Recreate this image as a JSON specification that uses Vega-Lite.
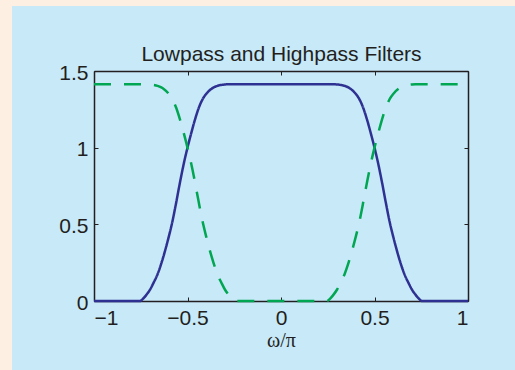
{
  "$schema": "https://vega.github.io/schema/vega-lite/v6.json",
  "width": 374,
  "height": 230,
  "autosize": {"type": "none"},
  "padding": {"left": 94, "top": 71, "right": 47, "bottom": 69},
  "background": "#c7e9f8",
  "config": {
    "view": {"stroke": null},
    "axis": {"domainColor": "#231f20", "domainWidth": 1.5, "tickColor": "#231f20", "tickWidth": 1, "tickSize": -4, "grid": false, "labelColor": "#231f20", "labelFont": "Liberation Sans", "labelFontSize": 21, "titleColor": "#231f20"}
  },
  "datasets": {
    "curves": [
      {"x": -1.0, "y": 0.0, "s": "lowpass"},
      {"x": -0.754, "y": 0.0, "s": "lowpass"},
      {"x": -0.74, "y": 0.012, "s": "lowpass"},
      {"x": -0.73, "y": 0.025, "s": "lowpass"},
      {"x": -0.72, "y": 0.04, "s": "lowpass"},
      {"x": -0.70, "y": 0.075, "s": "lowpass"},
      {"x": -0.683, "y": 0.115, "s": "lowpass"},
      {"x": -0.66, "y": 0.175, "s": "lowpass"},
      {"x": -0.64, "y": 0.245, "s": "lowpass"},
      {"x": -0.629, "y": 0.289, "s": "lowpass"},
      {"x": -0.60, "y": 0.42, "s": "lowpass"},
      {"x": -0.584, "y": 0.5, "s": "lowpass"},
      {"x": -0.56, "y": 0.645, "s": "lowpass"},
      {"x": -0.54, "y": 0.775, "s": "lowpass"},
      {"x": -0.52, "y": 0.895, "s": "lowpass"},
      {"x": -0.50, "y": 1.0, "s": "lowpass"},
      {"x": -0.48, "y": 1.095, "s": "lowpass"},
      {"x": -0.46, "y": 1.183, "s": "lowpass"},
      {"x": -0.44, "y": 1.2586, "s": "lowpass"},
      {"x": -0.416, "y": 1.3229, "s": "lowpass"},
      {"x": -0.40, "y": 1.3505, "s": "lowpass"},
      {"x": -0.371, "y": 1.3844, "s": "lowpass"},
      {"x": -0.36, "y": 1.3928, "s": "lowpass"},
      {"x": -0.34, "y": 1.4034, "s": "lowpass"},
      {"x": -0.317, "y": 1.4095, "s": "lowpass"},
      {"x": -0.30, "y": 1.4122, "s": "lowpass"},
      {"x": -0.28, "y": 1.4137, "s": "lowpass"},
      {"x": -0.27, "y": 1.414, "s": "lowpass"},
      {"x": -0.246, "y": 1.4142, "s": "lowpass"},
      {"x": 0.0, "y": 1.4142, "s": "lowpass"},
      {"x": 0.246, "y": 1.4142, "s": "lowpass"},
      {"x": 0.27, "y": 1.414, "s": "lowpass"},
      {"x": 0.28, "y": 1.4137, "s": "lowpass"},
      {"x": 0.30, "y": 1.4122, "s": "lowpass"},
      {"x": 0.317, "y": 1.4095, "s": "lowpass"},
      {"x": 0.34, "y": 1.4034, "s": "lowpass"},
      {"x": 0.36, "y": 1.3928, "s": "lowpass"},
      {"x": 0.371, "y": 1.3844, "s": "lowpass"},
      {"x": 0.40, "y": 1.3505, "s": "lowpass"},
      {"x": 0.416, "y": 1.3229, "s": "lowpass"},
      {"x": 0.44, "y": 1.2586, "s": "lowpass"},
      {"x": 0.46, "y": 1.183, "s": "lowpass"},
      {"x": 0.48, "y": 1.095, "s": "lowpass"},
      {"x": 0.50, "y": 1.0, "s": "lowpass"},
      {"x": 0.52, "y": 0.895, "s": "lowpass"},
      {"x": 0.54, "y": 0.775, "s": "lowpass"},
      {"x": 0.56, "y": 0.645, "s": "lowpass"},
      {"x": 0.584, "y": 0.5, "s": "lowpass"},
      {"x": 0.60, "y": 0.42, "s": "lowpass"},
      {"x": 0.629, "y": 0.289, "s": "lowpass"},
      {"x": 0.64, "y": 0.245, "s": "lowpass"},
      {"x": 0.66, "y": 0.175, "s": "lowpass"},
      {"x": 0.683, "y": 0.115, "s": "lowpass"},
      {"x": 0.70, "y": 0.075, "s": "lowpass"},
      {"x": 0.72, "y": 0.04, "s": "lowpass"},
      {"x": 0.73, "y": 0.025, "s": "lowpass"},
      {"x": 0.74, "y": 0.012, "s": "lowpass"},
      {"x": 0.754, "y": 0.0, "s": "lowpass"},
      {"x": 1.0, "y": 0.0, "s": "lowpass"},
      {"x": -1.0, "y": 1.4142, "s": "highpass"},
      {"x": -0.754, "y": 1.4142, "s": "highpass"},
      {"x": -0.73, "y": 1.414, "s": "highpass"},
      {"x": -0.72, "y": 1.4137, "s": "highpass"},
      {"x": -0.70, "y": 1.4122, "s": "highpass"},
      {"x": -0.683, "y": 1.4095, "s": "highpass"},
      {"x": -0.66, "y": 1.4034, "s": "highpass"},
      {"x": -0.64, "y": 1.3928, "s": "highpass"},
      {"x": -0.629, "y": 1.3844, "s": "highpass"},
      {"x": -0.60, "y": 1.3505, "s": "highpass"},
      {"x": -0.584, "y": 1.3229, "s": "highpass"},
      {"x": -0.56, "y": 1.2586, "s": "highpass"},
      {"x": -0.54, "y": 1.183, "s": "highpass"},
      {"x": -0.52, "y": 1.095, "s": "highpass"},
      {"x": -0.50, "y": 1.0, "s": "highpass"},
      {"x": -0.48, "y": 0.895, "s": "highpass"},
      {"x": -0.46, "y": 0.775, "s": "highpass"},
      {"x": -0.44, "y": 0.645, "s": "highpass"},
      {"x": -0.416, "y": 0.5, "s": "highpass"},
      {"x": -0.40, "y": 0.42, "s": "highpass"},
      {"x": -0.371, "y": 0.289, "s": "highpass"},
      {"x": -0.36, "y": 0.245, "s": "highpass"},
      {"x": -0.34, "y": 0.175, "s": "highpass"},
      {"x": -0.317, "y": 0.115, "s": "highpass"},
      {"x": -0.30, "y": 0.075, "s": "highpass"},
      {"x": -0.28, "y": 0.04, "s": "highpass"},
      {"x": -0.27, "y": 0.025, "s": "highpass"},
      {"x": -0.26, "y": 0.012, "s": "highpass"},
      {"x": -0.246, "y": 0.0, "s": "highpass"},
      {"x": 0.0, "y": 0.0, "s": "highpass"},
      {"x": 0.246, "y": 0.0, "s": "highpass"},
      {"x": 0.26, "y": 0.012, "s": "highpass"},
      {"x": 0.27, "y": 0.025, "s": "highpass"},
      {"x": 0.28, "y": 0.04, "s": "highpass"},
      {"x": 0.30, "y": 0.075, "s": "highpass"},
      {"x": 0.317, "y": 0.115, "s": "highpass"},
      {"x": 0.34, "y": 0.175, "s": "highpass"},
      {"x": 0.36, "y": 0.245, "s": "highpass"},
      {"x": 0.371, "y": 0.289, "s": "highpass"},
      {"x": 0.40, "y": 0.42, "s": "highpass"},
      {"x": 0.416, "y": 0.5, "s": "highpass"},
      {"x": 0.44, "y": 0.645, "s": "highpass"},
      {"x": 0.46, "y": 0.775, "s": "highpass"},
      {"x": 0.48, "y": 0.895, "s": "highpass"},
      {"x": 0.50, "y": 1.0, "s": "highpass"},
      {"x": 0.52, "y": 1.095, "s": "highpass"},
      {"x": 0.54, "y": 1.183, "s": "highpass"},
      {"x": 0.56, "y": 1.2586, "s": "highpass"},
      {"x": 0.584, "y": 1.3229, "s": "highpass"},
      {"x": 0.60, "y": 1.3505, "s": "highpass"},
      {"x": 0.629, "y": 1.3844, "s": "highpass"},
      {"x": 0.64, "y": 1.3928, "s": "highpass"},
      {"x": 0.66, "y": 1.4034, "s": "highpass"},
      {"x": 0.683, "y": 1.4095, "s": "highpass"},
      {"x": 0.70, "y": 1.4122, "s": "highpass"},
      {"x": 0.72, "y": 1.4137, "s": "highpass"},
      {"x": 0.73, "y": 1.414, "s": "highpass"},
      {"x": 0.754, "y": 1.4142, "s": "highpass"},
      {"x": 1.0, "y": 1.4142, "s": "highpass"}
    ]
  },
  "layer": [
    {
      "data": {"values": [{}]},
      "mark": {"type": "rect", "color": "#fdefe1"},
      "encoding": {
        "x": {"datum": -1.7, "type": "quantitative", "scale": {"domain": [-1, 1], "nice": false, "zero": false}, "axis": null},
        "x2": {"datum": -1.4385},
        "y": {"datum": 2.2, "type": "quantitative", "scale": {"domain": [0, 1.5], "nice": false, "zero": false}, "axis": null},
        "y2": {"datum": -0.7}
      }
    },
    {
      "data": {"values": [{}]},
      "mark": {"type": "rect", "color": "#fdefe1"},
      "encoding": {
        "x": {"datum": -1.7, "type": "quantitative", "scale": {"domain": [-1, 1], "nice": false, "zero": false}, "axis": null},
        "x2": {"datum": 1.5},
        "y": {"datum": 2.2, "type": "quantitative", "scale": {"domain": [0, 1.5], "nice": false, "zero": false}, "axis": null},
        "y2": {"datum": 1.9239}
      }
    },
    {
      "data": {"name": "curves"},
      "mark": {"type": "line", "interpolate": "monotone", "strokeWidth": 2.5},
      "encoding": {
        "x": {"field": "x", "type": "quantitative", "scale": {"domain": [-1, 1], "nice": false, "zero": false},
              "axis": {"orient": "bottom", "values": [-1, -0.5, 0, 0.5, 1], "format": "~g", "labelPadding": 10, "title": "ω/π", "titleFont": "Liberation Serif", "titleFontSize": 20, "titleFontWeight": "normal", "titlePadding": 2}},
        "y": {"field": "y", "type": "quantitative", "scale": {"domain": [0, 1.5], "nice": false, "zero": false},
              "axis": {"orient": "left", "values": [0, 0.5, 1, 1.5], "format": "~g", "labelPadding": 10, "labelOffset": 2, "title": null}},
        "color": {"field": "s", "type": "nominal", "scale": {"domain": ["lowpass", "highpass"], "range": ["#2e3192", "#00a651"]}, "legend": null},
        "strokeDash": {"field": "s", "type": "nominal", "scale": {"domain": ["lowpass", "highpass"], "range": [[1, 0], [17, 13]]}, "legend": null}
      }
    },
    {
      "data": {"name": "curves"},
      "mark": {"type": "line", "opacity": 0},
      "encoding": {
        "x": {"field": "x", "type": "quantitative", "scale": {"domain": [-1, 1], "nice": false, "zero": false},
              "axis": {"orient": "top", "values": [-1, -0.5, 0, 0.5, 1], "labels": false, "title": "Lowpass and Highpass Filters", "titleFont": "Liberation Sans", "titleFontSize": 21, "titleFontWeight": "normal", "titleBaseline": "alphabetic", "titlePadding": 10}},
        "y": {"field": "y", "type": "quantitative", "scale": {"domain": [0, 1.5], "nice": false, "zero": false},
              "axis": {"orient": "right", "values": [0, 0.5, 1, 1.5], "labels": false, "title": null}}
      }
    }
  ],
  "resolve": {"axis": {"x": "independent", "y": "independent"}}
}
